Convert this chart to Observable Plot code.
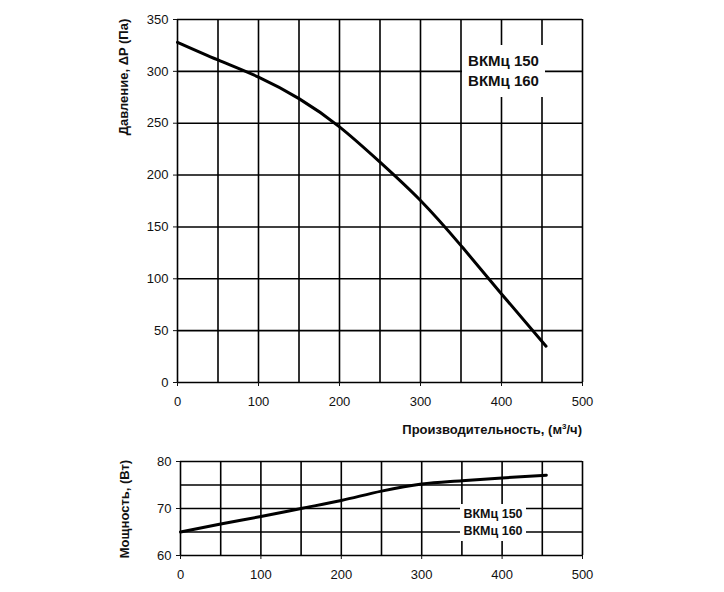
<!DOCTYPE html>
<html>
<head>
<meta charset="utf-8">
<script src="https://cdn.jsdelivr.net/npm/d3@7"></script>
<script src="https://cdn.jsdelivr.net/npm/@observablehq/plot@0.6"></script>
<style>
  html, body { margin: 0; padding: 0; background: #fff; }
  #chart { position: relative; width: 724px; height: 592px; font-family: "Liberation Sans", Arial, sans-serif; color: #111; }
  #chart svg { position: absolute; left: 0; }
  .title { position: absolute; font-weight: bold; font-size: 13px; white-space: nowrap; line-height: 16px; }
  .rot { transform: translate(-50%, -50%) rotate(-90deg); }
  .tag { position: absolute; background: #fff; font-weight: bold; text-align: center; white-space: nowrap; }
</style>
</head>
<body>
<div id="chart"></div>
<script>
// Airflow, m³/h
const flow = [0, 50, 100, 150, 200, 250, 300, 350, 400, 455];
// Static pressure, Pa
const pressure = [328, 311, 294.5, 273.7, 246.5, 212.5, 175.5, 132, 85.4, 35];
// Power consumption, W
const power = [65, 66.7, 68.3, 70, 71.7, 73.7, 75.2, 75.9, 76.5, 77.1];

const models = ["ВКМц 150", "ВКМц 160"];
const flowTicks = [0, 100, 200, 300, 400, 500];
const pressureTicks = [0, 50, 100, 150, 200, 250, 300, 350];
const powerTicks = [60, 70, 80];

const pressureData = flow.map((f, i) => ({flow: f, value: pressure[i]}));
const powerData = flow.map((f, i) => ({flow: f, value: power[i]}));

const grid = {stroke: "#000", strokeOpacity: 1, strokeWidth: 1.6};
const style = {fontFamily: "'Liberation Sans', Arial, sans-serif", fontSize: "13px", color: "#111", background: "transparent"};

const chart = document.getElementById("chart");

// Pressure curve
const pressurePlot = Plot.plot({
  width: 724, height: 445,
  marginLeft: 177, marginRight: 142, marginTop: 19, marginBottom: 63,
  style,
  x: {domain: [0, 500]},
  y: {domain: [0, 350]},
  marks: [
    Plot.gridX(d3.range(0, 501, 50), grid),
    Plot.gridY(pressureTicks, grid),
    Plot.axisX(flowTicks, {tickSize: 4, tickPadding: 10, label: null}),
    Plot.axisY(pressureTicks, {tickSize: 4, tickPadding: 5, label: null}),
    Plot.line(pressureData, {x: "flow", y: "value", stroke: "#000", strokeWidth: 3, curve: "natural"})
  ]
});
pressurePlot.style.top = "0px";
chart.appendChild(pressurePlot);

// Power curve
const powerPlot = Plot.plot({
  width: 724, height: 152,
  marginLeft: 180, marginRight: 142, marginTop: 21, marginBottom: 37,
  style,
  x: {domain: [0, 500]},
  y: {domain: [60, 80]},
  marks: [
    Plot.gridX(d3.range(0, 501, 50), grid),
    Plot.gridY(d3.range(60, 81, 5), grid),
    Plot.axisX(flowTicks, {tickSize: 4, tickPadding: 10, label: null}),
    Plot.axisY(powerTicks, {tickSize: 4, tickPadding: 5, label: null}),
    Plot.line(powerData, {x: "flow", y: "value", stroke: "#000", strokeWidth: 3, curve: "monotone-x"})
  ]
});
powerPlot.style.top = "440px";
chart.appendChild(powerPlot);

function addDiv(cls, html, css) {
  const el = document.createElement("div");
  el.className = cls;
  el.innerHTML = html;
  Object.assign(el.style, css);
  chart.appendChild(el);
  return el;
}

// Axis titles
addDiv("title rot", "Давление, ΔP (Па)", {left: "124px", top: "77px"});
addDiv("title", "Производительность, (м<sup style='font-size:8px;line-height:0'>3</sup>/ч)", {right: "142px", top: "422px"});
addDiv("title rot", "Мощность, (Вт)", {left: "125px", top: "509px"});

// Model labels
addDiv("tag", models.join("<br>"), {left: "462px", top: "45px", width: "83px", height: "52px", fontSize: "15px", lineHeight: "20px", boxSizing: "border-box", display: "flex", flexDirection: "column", justifyContent: "center"});
addDiv("tag", models.join("<br>"), {left: "460px", top: "504px", width: "66px", height: "37px", fontSize: "12.5px", lineHeight: "16.6px", boxSizing: "border-box", display: "flex", flexDirection: "column", justifyContent: "center"});
</script>
</body>
</html>
